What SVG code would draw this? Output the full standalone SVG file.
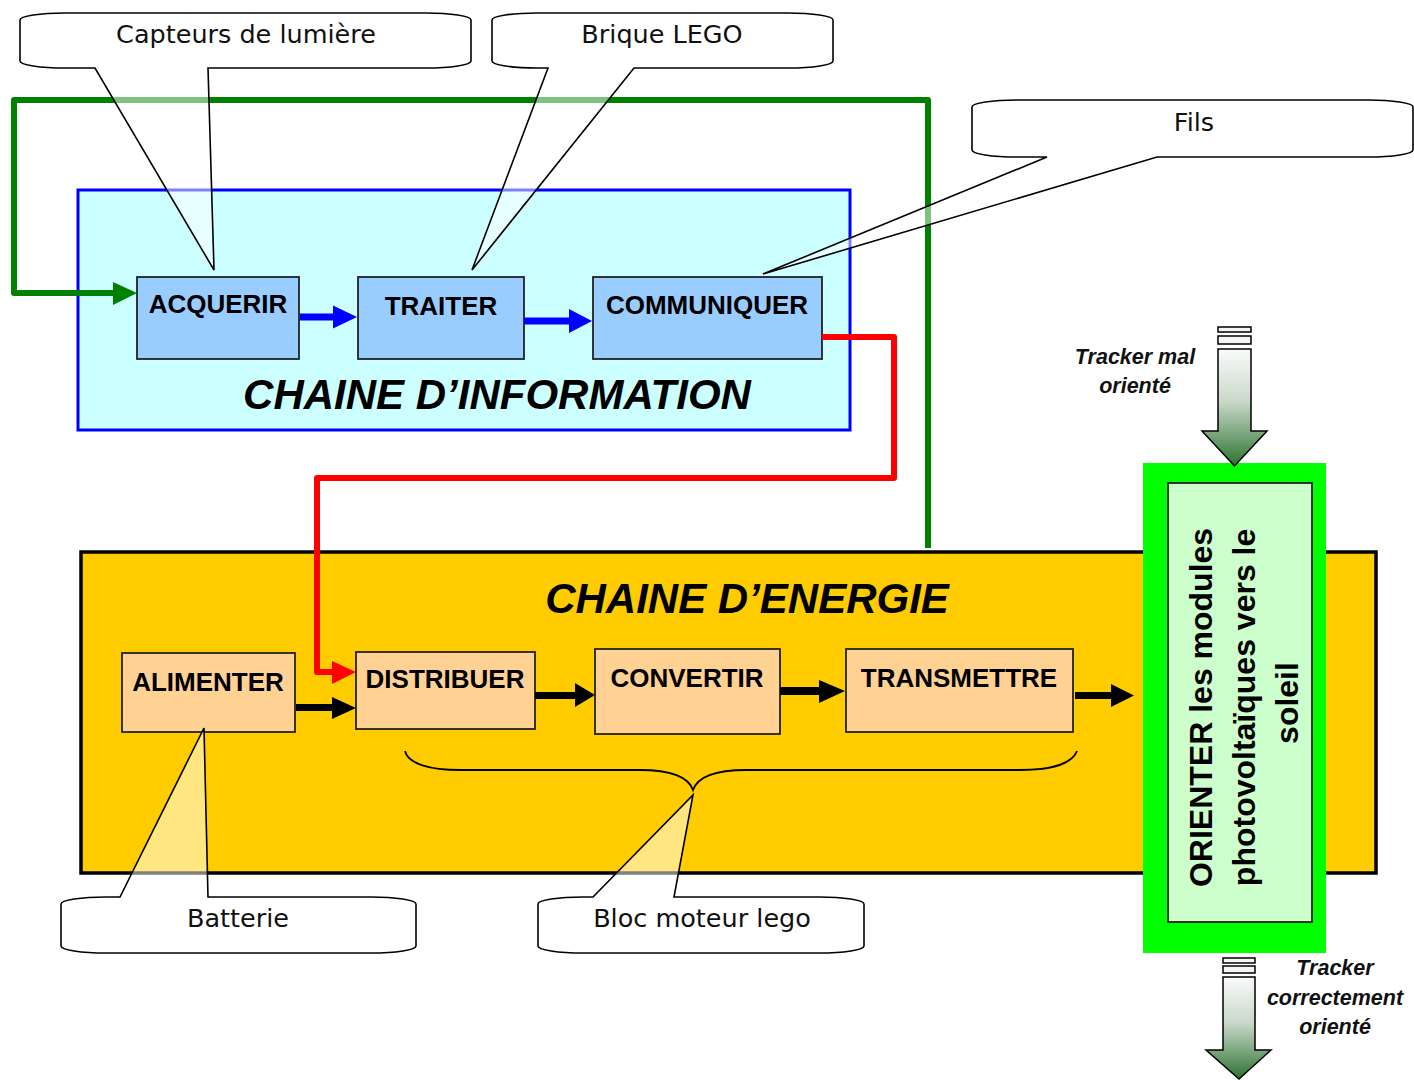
<svg xmlns="http://www.w3.org/2000/svg" width="1414" height="1080" viewBox="0 0 1414 1080">
<style>
.node-b{fill:#99CCFF;stroke:#222;stroke-width:1.8}
.node-o{fill:#FFD294;stroke:#222;stroke-width:1.8}
.lbl{font-family:"Liberation Sans",Arial,sans-serif;font-weight:bold;font-size:26px;fill:#000;text-anchor:middle}
.title{font-family:"Liberation Sans",Arial,sans-serif;font-weight:bold;font-style:italic;font-size:42px;fill:#000;text-anchor:middle}
.call{fill:#fff;fill-opacity:0.5;stroke:#000;stroke-width:1.6;stroke-linejoin:miter}
.ctext{font-family:"DejaVu Sans","Liberation Sans",sans-serif;font-size:25.5px;fill:#111;text-anchor:middle}
.trk{font-family:"Liberation Sans",Arial,sans-serif;font-weight:bold;font-style:italic;font-size:21.5px;fill:#111;text-anchor:middle}
.barrow{fill:#0000FF}
.karrow{fill:#000}
.wire{fill:none;stroke-width:6;stroke-linejoin:round;stroke-linecap:butt}
</style>
<defs>
<linearGradient id="trkgrad" x1="0" y1="0" x2="0" y2="1">
<stop offset="0" stop-color="#FAFAFA"/>
<stop offset="0.45" stop-color="#C9D8C9"/>
<stop offset="1" stop-color="#2D7332"/>
</linearGradient>
</defs>

<!-- containers -->
<g id="chaine-information">
<rect x="78" y="190" width="772" height="240" fill="#CCFFFF" stroke="#0000FF" stroke-width="3"/>
<text class="title" x="497" y="409">CHAINE D’INFORMATION</text>
</g>
<g id="chaine-energie">
<rect x="81" y="552" width="1295" height="321" fill="#FFCC00" stroke="#000" stroke-width="3.5"/>
<text class="title" x="747" y="613">CHAINE D’ENERGIE</text>
</g>

<!-- nodes -->
<g id="acquerir">
<rect class="node-b" x="137" y="277" width="162" height="82"/>
<text class="lbl" x="218" y="313">ACQUERIR</text>
</g>
<g id="traiter">
<rect class="node-b" x="358" y="277" width="166" height="82"/>
<text class="lbl" x="441" y="315">TRAITER</text>
</g>
<g id="communiquer">
<rect class="node-b" x="593" y="277" width="229" height="82"/>
<text class="lbl" x="707" y="314">COMMUNIQUER</text>
</g>
<g id="alimenter">
<rect class="node-o" x="122" y="653" width="173" height="79"/>
<text class="lbl" x="208" y="691">ALIMENTER</text>
</g>
<g id="distribuer">
<rect class="node-o" x="356" y="652" width="179" height="77"/>
<text class="lbl" x="445" y="688">DISTRIBUER</text>
</g>
<g id="convertir">
<rect class="node-o" x="595" y="649" width="185" height="85"/>
<text class="lbl" x="687" y="687">CONVERTIR</text>
</g>
<g id="transmettre">
<rect class="node-o" x="846" y="649" width="227" height="83"/>
<text class="lbl" x="959" y="687">TRANSMETTRE</text>
</g>
<g id="orienter">
<rect x="1143" y="463" width="183" height="490" fill="#00FF00"/>
<rect x="1168" y="483" width="144" height="439" fill="#CCFFCC" stroke="#222" stroke-width="1.8"/>
<text class="lbl" font-size="32" style="font-size:32px" transform="translate(1212,703) rotate(-90)">
<tspan x="0" y="0">ORIENTER les modules</tspan>
<tspan x="0" y="43">photovoltaïques vers le</tspan>
<tspan x="0" y="86">soleil</tspan>
</text>
</g>

<!-- brace -->
<g id="brace">
<path d="M405,751 C408,764 430,770 460,770 H640 C670,770 688,776 693,790 C698,776 716,770 746,770 H1020 C1050,770 1072,764 1077,751" fill="none" stroke="#000" stroke-width="1.8"/>
</g>

<!-- connectors -->
<g id="connectors">
<path class="wire" stroke="#008000" d="M928,548 V100 H14 V293 H116"/>
<path fill="#008000" d="M113,282 L137,293 L113,305 Z"/>
<path class="wire" stroke="#FF0000" d="M822,337 H894 V478 H317 V672 H334"/>
<path fill="#FF0000" d="M332,661 L356,672 L332,684 Z"/>
<path class="barrow" d="M300,313.5 H333 V305.5 L357,317 L333,328.5 V320.5 H300 Z"/>
<path class="barrow" d="M524,317.5 H569 V309 L592,321 L569,333 V324.5 H524 Z"/>
<path class="karrow" d="M296,704 H332 V697 L356,708 L332,719 V711 H296 Z"/>
<path class="karrow" d="M535,692 H575 V683 L595,695 L575,707 V699 H535 Z"/>
<path class="karrow" d="M780,687 H819 V680 L845,691 L819,703 V695 H780 Z"/>
<path class="karrow" d="M1075,692 H1111 V684 L1134,695.5 L1111,707 V699 H1075 Z"/>
</g>

<!-- tracker arrows -->
<g id="tracker-mal">
<rect x="1218" y="327" width="33" height="5" fill="#F5F5F5" stroke="#000" stroke-width="1.5"/>
<rect x="1218" y="336" width="33" height="8" fill="#F5F5F5" stroke="#000" stroke-width="1.5"/>
<path d="M1218,349 H1251 V431 H1267 L1234.5,466 L1202,431 H1218 Z" fill="url(#trkgrad)" stroke="#000" stroke-width="1.5"/>
<text class="trk" x="1135" y="364">Tracker mal</text>
<text class="trk" x="1135" y="393">orienté</text>
</g>
<g id="tracker-correct">
<rect x="1223" y="958" width="32" height="5" fill="#F5F5F5" stroke="#000" stroke-width="1.5"/>
<rect x="1223" y="966" width="32" height="7" fill="#F5F5F5" stroke="#000" stroke-width="1.5"/>
<path d="M1223,977 H1255 V1050 H1271 L1239,1079 L1206,1050 H1223 Z" fill="url(#trkgrad)" stroke="#000" stroke-width="1.5"/>
<text class="trk" x="1335" y="975">Tracker</text>
<text class="trk" x="1335" y="1005">correctement</text>
<text class="trk" x="1335" y="1034">orienté</text>
</g>

<!-- callouts -->
<g id="callout-capteurs">
<path class="call" d="M65,13 H426 A45 7 0 0 1 471,20 V61 A45 7 0 0 1 426,68 H208 L214,270 L95,68 H65 A45 7 0 0 1 20,61 V20 A45 7 0 0 1 65,13 Z"/>
<text class="ctext" x="246" y="43">Capteurs de lumière</text>
</g>
<g id="callout-brique">
<path class="call" d="M537,13 H788 A45 7 0 0 1 833,20 V61 A45 7 0 0 1 788,68 H634 L472,270 L548,68 H537 A45 7 0 0 1 492,61 V20 A45 7 0 0 1 537,13 Z"/>
<text class="ctext" x="662" y="43">Brique LEGO</text>
</g>
<g id="callout-fils">
<path class="call" d="M1017,100 H1368 A45 7 0 0 1 1413,107 V150 A45 7 0 0 1 1368,157 H1157 L763,274 L1047,157 H1017 A45 7 0 0 1 972,150 V107 A45 7 0 0 1 1017,100 Z"/>
<text class="ctext" x="1194" y="131">Fils</text>
</g>
<g id="callout-batterie">
<path class="call" d="M106,897 H120 L204,728 L208,897 H371 A45 7 0 0 1 416,904 V946 A45 7 0 0 1 371,953 H106 A45 7 0 0 1 61,946 V904 A45 7 0 0 1 106,897 Z"/>
<text class="ctext" x="238" y="927">Batterie</text>
</g>
<g id="callout-bloc">
<path class="call" d="M583,897 H593 L693,795 L674,897 H819 A45 7 0 0 1 864,904 V946 A45 7 0 0 1 819,953 H583 A45 7 0 0 1 538,946 V904 A45 7 0 0 1 583,897 Z"/>
<text class="ctext" x="702" y="927">Bloc moteur lego</text>
</g>
</svg>
